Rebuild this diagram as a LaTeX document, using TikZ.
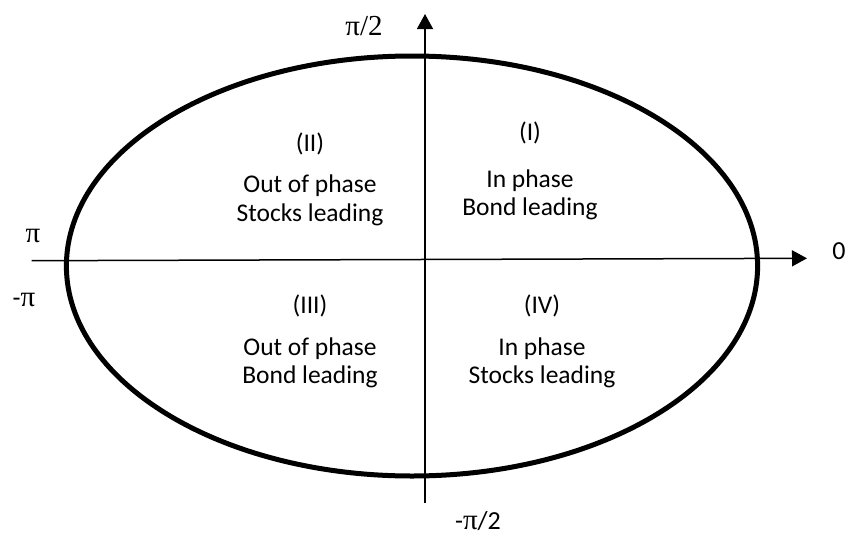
\documentclass[tikz,border=0pt]{standalone}
\usepackage{fontspec}
\setmainfont{Carlito}
\newfontfamily\serifpi{Liberation Serif}
\usetikzlibrary{arrows.meta}
\begin{document}
\begin{tikzpicture}[x=1pt,y=-1pt,
  axisline/.style={line width=1.5pt,-{Triangle[length=15pt,width=16pt]}},
  oval/.style={line width=5pt},
  qtext/.style={font=\fontsize{25.5}{28}\selectfont,anchor=base,inner sep=0pt},
  plab/.style={font=\fontsize{26}{28}\selectfont,inner sep=0pt,anchor=center},
  pis/.style={font=\fontsize{29}{30}\selectfont\serifpi}]
\useasboundingbox (0,0) rectangle (846,536);
\draw[oval] (412,266) ellipse [x radius=345.6, y radius=210];
\coordinate (hl) at (31.7,260.7);
\coordinate (hr) at (807,258.3);
\coordinate (vb) at (425,503);
\coordinate (vt) at (425,14);
\draw[axisline] (hl) -- (hr);
\draw[axisline] (vb) -- (vt);
% quadrant I
\node[qtext] (q1n) at (530,140) {(I)};
\node[qtext] (q1a) at (530,187) {In phase};
\node[qtext] (q1b) at (530,215) {Bond leading};
% quadrant II
\node[qtext] (q2n) at (310,151) {(II)};
\node[qtext] (q2a) at (310,192) {Out of phase};
\node[qtext] (q2b) at (310,221) {Stocks leading};
% quadrant III
\node[qtext] (q3n) at (310,313) {(III)};
\node[qtext] (q3a) at (310,355) {Out of phase};
\node[qtext] (q3b) at (310,383) {Bond leading};
% quadrant IV
\node[qtext] (q4n) at (542,313) {(IV)};
\node[qtext] (q4a) at (542,355) {In phase};
\node[qtext] (q4b) at (542,383) {Stocks leading};
% axis labels
\node[plab,pis] (ltop) at (364,26) {π/2};
\node[plab,pis] (lpi) at (33,236) {π};
\node[plab] (lmpi) at (24,300) {-{\fontsize{29}{30}\selectfont\serifpi π}};
\node[plab] (lzero) at (839,251) {0};
\node[plab] (lbot) at (478,521) {-{\fontsize{29}{30}\selectfont\serifpi π}/2};
\end{tikzpicture}
\end{document}
